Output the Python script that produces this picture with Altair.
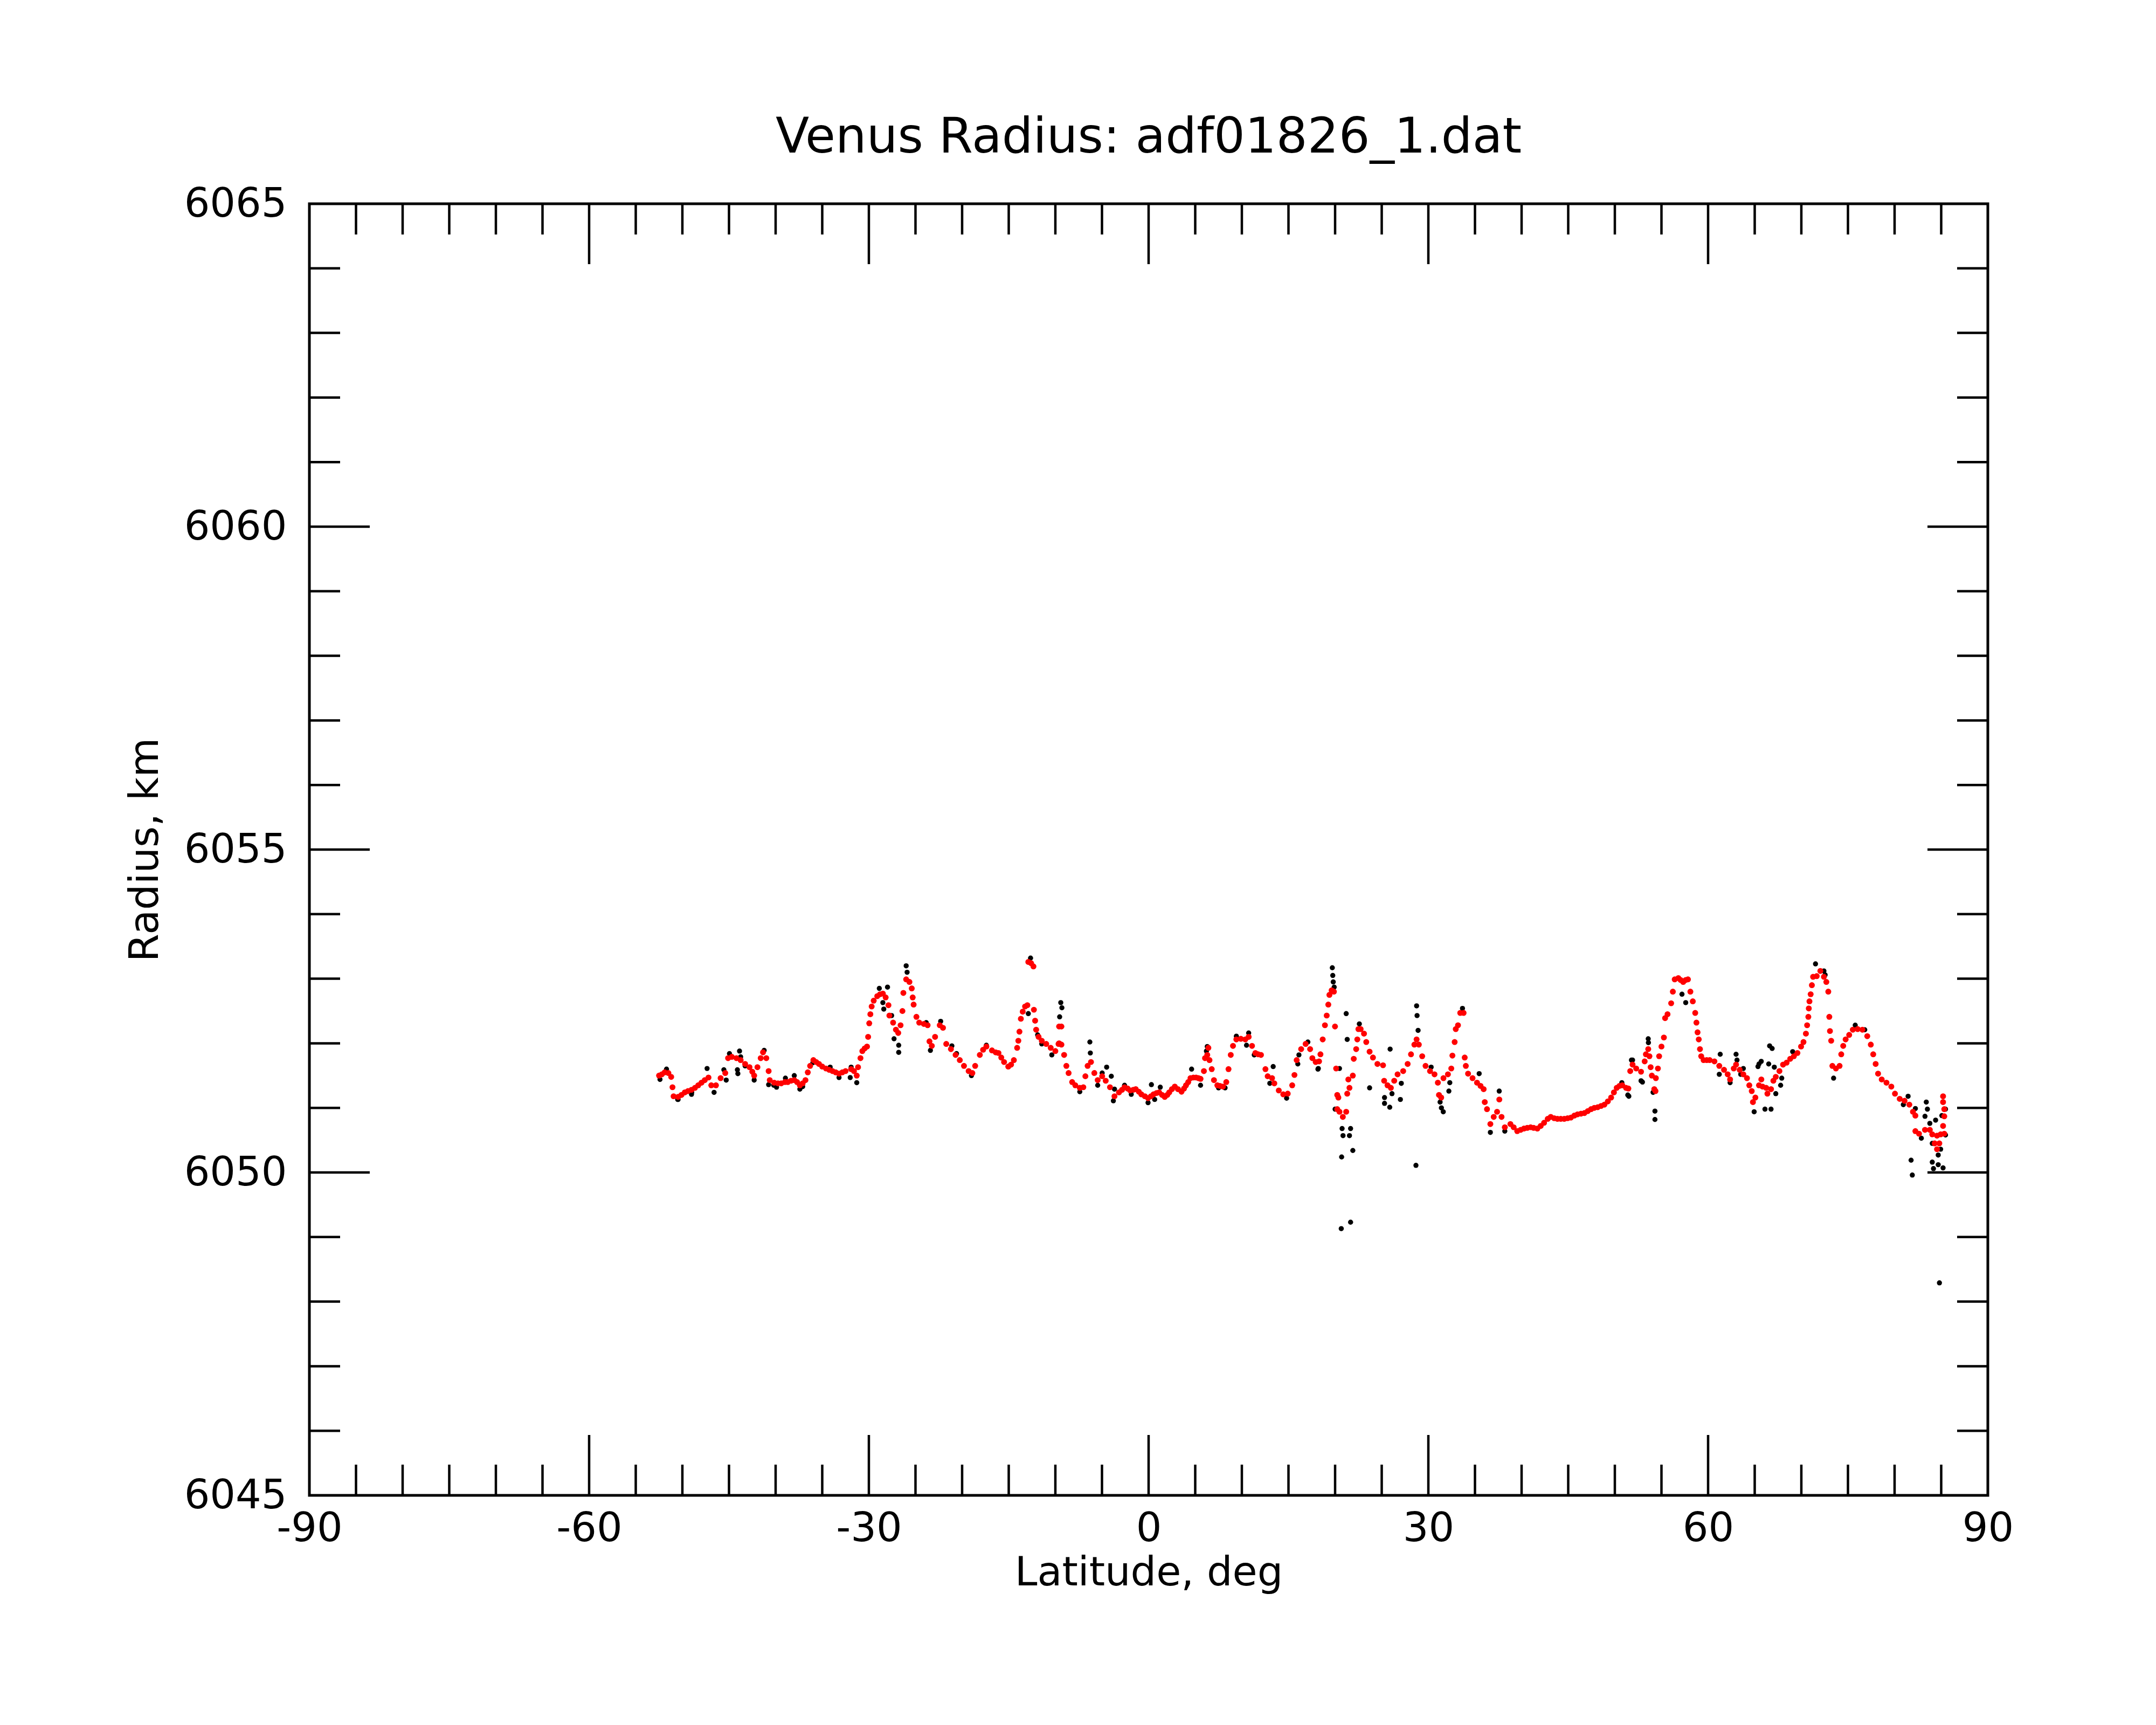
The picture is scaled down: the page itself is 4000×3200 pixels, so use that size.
import altair as alt
import pandas as pd

# ---- data ----
red_lat = [
    -52.5, -52.2, -51.9, -51.5, -51.2, -51.06, -50.94, -50.46, -50.1, -49.74,
    -49.4, -49.02, -48.65, -48.3, -47.95, -47.6, -47.2, -46.9, -46.4, -45.9,
    -45.4, -45.1, -44.7, -44.2, -43.75, -43.27, -42.8, -42.5, -42.3, -41.95,
    -41.6, -41.35, -41.0, -40.75, -40.63, -40.15, -39.75, -39.4, -39.0, -38.7,
    -38.35, -38.0, -37.7, -37.4, -37.1, -36.8, -36.55, -36.3, -35.95, -35.65,
    -35.35, -35.0, -34.6, -34.25, -33.9, -33.55, -33.2, -32.85, -32.5, -31.9,
    -31.6, -31.3, -31.16, -30.9, -30.7, -30.45, -30.2, -30.08, -29.96, -29.84,
    -29.7, -29.48, -29.1, -28.8, -28.5, -28.2, -27.9, -27.8, -27.4, -27.1,
    -26.85, -26.6, -26.4, -26.3, -26.0, -25.65, -25.4, -25.3, -25.2, -24.9,
    -24.6, -24.1, -23.7, -23.5, -23.25, -22.9, -22.4, -22.05, -21.7, -21.2,
    -20.7, -20.25, -19.8, -19.3, -18.9, -18.6, -18.1, -17.75, -17.4, -16.8,
    -16.4, -16.1, -15.8, -15.5, -15.05, -14.75, -14.45, -14.1, -13.97, -13.85,
    -13.7, -13.5, -13.25, -13.0, -12.9, -12.6, -12.35, -12.3, -12.17, -12.06,
    -11.8, -11.46, -10.98, -10.5, -10.0, -9.66, -9.6, -9.35, -9.6, -9.35,
    -9.06, -8.82, -8.58, -8.2, -7.86, -7.38, -7.0, -6.78, -6.54, -6.18,
    -5.82, -5.46, -4.98, -4.6, -4.14, -3.66, -3.18, -2.85, -2.58, -2.25,
    -1.98, -1.65, -1.38, -1.05, -0.78, -0.4, -0.06, 0.25, 0.53, 0.85,
    1.13, 1.45, 1.73, 2.0, 2.21, 2.5, 2.81, 3.15, 3.53, 3.8,
    4.01, 4.25, 4.49, 4.8, 5.09, 5.35, 5.57, 5.93, 6.05, 6.29,
    6.41, 6.53, 6.77, 7.01, 7.37, 7.65, 7.97, 8.33, 8.57, 8.81,
    9.05, 9.41, 9.89, 10.37, 10.73, 11.09, 11.45, 11.75, 12.05, 12.53,
    12.77, 13.24, 13.48, 13.96, 14.44, 14.92, 15.4, 15.64, 15.88, 16.36,
    16.84, 17.32, 17.56, 17.92, 18.28, 18.43, 18.67, 18.91, 19.1, 19.27,
    19.39, 19.63, 19.87, 19.99, 20.11, 20.23, 20.35, 20.23, 20.47, 20.83,
    21.19, 21.3, 21.42, 21.54, 21.9, 22.0, 22.26, 22.38, 22.5, 22.74,
    23.1, 23.34, 23.7, 24.06, 24.54, 25.14, 25.26, 25.62, 25.98, 26.34,
    26.7, 27.3, 27.78, 28.14, 28.5, 28.74, 28.98, 29.34, 29.7, 30.18,
    30.66, 31.02, 31.14, 31.38, 31.62, 32.1, 32.46, 32.58, 32.82, 32.94,
    33.18, 33.42, 33.78, 33.9, 34.02, 34.26, 34.74, 35.22, 35.6, 35.93,
    36.05, 36.29, 36.65, 37.01, 37.37, 37.61, 37.85, 38.2, 38.8, 39.15,
    39.53, 39.9, 40.25, 40.6, 40.97, 41.3, 41.69, 42.05, 42.41, 42.8,
    43.13, 43.5, 43.85, 44.2, 44.57, 44.93, 45.29, 45.65, 46.0, 46.37,
    46.73, 47.1, 47.45, 47.8, 48.16, 48.52, 48.88, 49.25, 49.6, 49.9,
    50.2, 50.5, 50.8, 51.2, 51.45, 51.65, 51.9, 52.29, 52.81, 53.2,
    53.33, 53.58, 53.71, 53.84, 53.97, 54.23, 54.36, 54.4, 54.62, 54.75,
    55.0, 55.26, 55.39, 55.65, 56.04, 56.22, 56.42, 56.81, 57.05, 57.33,
    57.6, 57.84, 58.1, 58.36, 58.62, 58.75, 58.87, 59.0, 59.13, 59.26,
    59.52, 59.85, 60.17, 60.68, 61.2, 61.71, 62.1, 62.36, 62.75, 63.0,
    63.39, 63.78, 64.17, 64.42, 64.68, 64.81, 65.07, 65.46, 65.71, 65.84,
    66.23, 66.36, 66.75, 67.0, 67.26, 67.65, 68.04, 68.42, 68.81, 69.2,
    69.58, 69.97, 70.23, 70.49, 70.62, 70.75, 70.8, 70.87, 71.0, 71.13,
    71.26, 71.65, 72.04, 72.42, 72.68, 72.89, 73.0, 73.07, 73.2, 73.33,
    73.71, 74.1, 74.28, 74.49, 74.75, 75.13, 75.52, 76.04, 76.55, 77.07,
    77.45, 77.71, 77.97, 78.23, 78.62, 79.13, 79.65, 80.04, 80.55, 81.07,
    81.58, 81.97, 82.23, 82.23, 82.62, 83.26, 83.78, 84.04, 84.55, 84.94,
    85.33, 84.3, 84.8, 84.55, 85.2, 85.33, 85.33, 85.2, 85.2,
]
red_r = [
    6051.50, 6051.52, 6051.55, 6051.54, 6051.48, 6051.32, 6051.18, 6051.17, 6051.20, 6051.24,
    6051.26, 6051.28, 6051.31, 6051.35, 6051.39, 6051.43, 6051.47, 6051.35, 6051.35, 6051.46,
    6051.54, 6051.77, 6051.79, 6051.77, 6051.74, 6051.68, 6051.63, 6051.56, 6051.50, 6051.63,
    6051.77, 6051.86, 6051.77, 6051.57, 6051.43, 6051.39, 6051.38, 6051.38, 6051.40, 6051.40,
    6051.42, 6051.43, 6051.40, 6051.35, 6051.38, 6051.43, 6051.55, 6051.65, 6051.74, 6051.71,
    6051.68, 6051.64, 6051.61, 6051.59, 6051.57, 6051.55, 6051.53, 6051.55, 6051.57, 6051.60,
    6051.57, 6051.50, 6051.63, 6051.77, 6051.88, 6051.92, 6051.95, 6052.10, 6052.31, 6052.45,
    6052.57, 6052.66, 6052.73, 6052.76, 6052.77, 6052.71, 6052.59, 6052.43, 6052.32, 6052.21,
    6052.16, 6052.28, 6052.50, 6052.78, 6052.99, 6052.95, 6052.85, 6052.71, 6052.60, 6052.41,
    6052.32, 6052.30, 6052.28, 6052.03, 6051.96, 6052.10, 6052.28, 6052.24, 6051.99, 6051.91,
    6051.82, 6051.74, 6051.65, 6051.57, 6051.54, 6051.65, 6051.82, 6051.90, 6051.95, 6051.89,
    6051.86, 6051.85, 6051.78, 6051.71, 6051.64, 6051.67, 6051.74, 6051.93, 6052.04, 6052.18,
    6052.38, 6052.49, 6052.57, 6052.59, 6053.26, 6053.24, 6053.19, 6052.52, 6052.35, 6052.21,
    6052.10, 6052.04, 6051.99, 6051.93, 6051.88, 6051.99, 6052.00, 6051.98, 6052.26, 6052.26,
    6051.82, 6051.65, 6051.54, 6051.40, 6051.35, 6051.31, 6051.32, 6051.49, 6051.65, 6051.71,
    6051.54, 6051.43, 6051.49, 6051.42, 6051.32, 6051.18, 6051.24, 6051.28, 6051.32, 6051.30,
    6051.27, 6051.28, 6051.29, 6051.25, 6051.21, 6051.18, 6051.15, 6051.18, 6051.21, 6051.23,
    6051.24, 6051.20, 6051.17, 6051.20, 6051.24, 6051.29, 6051.33, 6051.29, 6051.25, 6051.30,
    6051.35, 6051.40, 6051.46, 6051.47, 6051.47, 6051.46, 6051.45, 6051.57, 6051.77, 6051.82,
    6051.93, 6051.74, 6051.60, 6051.43, 6051.35, 6051.34, 6051.33, 6051.40, 6051.60, 6051.82,
    6051.96, 6052.06, 6052.07, 6052.06, 6052.10, 6051.96, 6051.85, 6051.83, 6051.82, 6051.60,
    6051.49, 6051.46, 6051.38, 6051.27, 6051.21, 6051.22, 6051.35, 6051.51, 6051.74, 6051.91,
    6051.99, 6051.91, 6051.77, 6051.71, 6051.72, 6051.83, 6052.06, 6052.28, 6052.43, 6052.60,
    6052.75, 6052.82, 6052.80, 6052.26, 6051.61, 6051.20, 6051.16, 6050.98, 6050.94, 6050.86,
    6050.94, 6051.22, 6051.44, 6051.31, 6051.50, 6051.76, 6051.91, 6052.06, 6052.22, 6052.22,
    6052.15, 6052.02, 6051.87, 6051.78, 6051.68, 6051.66, 6051.42, 6051.35, 6051.31, 6051.42,
    6051.52, 6051.57, 6051.68, 6051.83, 6051.98, 6052.06, 6051.98, 6051.80, 6051.65, 6051.57,
    6051.52, 6051.39, 6051.20, 6051.16, 6051.46, 6051.52, 6051.61, 6051.81, 6052.02, 6052.22,
    6052.28, 6052.47, 6052.47, 6051.78, 6051.65, 6051.53, 6051.46, 6051.39, 6051.34, 6051.29,
    6051.09, 6050.98, 6050.75, 6050.86, 6050.94, 6051.13, 6050.86, 6050.70, 6050.75, 6050.70,
    6050.64, 6050.66, 6050.68, 6050.69, 6050.70, 6050.69, 6050.68, 6050.72, 6050.77, 6050.83,
    6050.86, 6050.84, 6050.83, 6050.83, 6050.83, 6050.84, 6050.85, 6050.88, 6050.90, 6050.91,
    6050.92, 6050.95, 6050.98, 6051.00, 6051.01, 6051.03, 6051.05, 6051.10, 6051.16, 6051.24,
    6051.31, 6051.34, 6051.35, 6051.31, 6051.30, 6051.57, 6051.67, 6051.61, 6051.56, 6051.72,
    6051.83, 6051.91, 6051.80, 6051.63, 6051.50, 6051.29, 6051.26, 6051.46, 6051.61, 6051.80,
    6051.95, 6052.09, 6052.39, 6052.45, 6052.62, 6052.80, 6052.99, 6053.01, 6052.98, 6052.95,
    6052.98, 6052.99, 6052.80, 6052.65, 6052.47, 6052.32, 6052.17, 6052.06, 6051.91, 6051.80,
    6051.74, 6051.74, 6051.74, 6051.72, 6051.65, 6051.59, 6051.52, 6051.44, 6051.61, 6051.67,
    6051.59, 6051.52, 6051.46, 6051.35, 6051.26, 6051.09, 6051.16, 6051.35, 6051.44, 6051.33,
    6051.31, 6051.22, 6051.29, 6051.42, 6051.48, 6051.57, 6051.67, 6051.70, 6051.76, 6051.80,
    6051.85, 6051.95, 6052.02, 6052.15, 6052.28, 6052.41, 6052.54, 6052.65, 6052.76, 6052.90,
    6053.03, 6053.04, 6053.12, 6053.03, 6052.95, 6052.80, 6052.41, 6052.19, 6052.04, 6051.65,
    6051.61, 6051.65, 6051.83, 6051.96, 6052.06, 6052.13, 6052.21, 6052.22, 6052.21, 6052.11,
    6051.98, 6051.83, 6051.68, 6051.53, 6051.44, 6051.39, 6051.33, 6051.22, 6051.14, 6051.11,
    6051.05, 6050.94, 6050.88, 6050.64, 6050.60, 6050.66, 6050.66, 6050.59, 6050.57, 6050.59,
    6050.60, 6050.45, 6050.45, 6050.36, 6050.72, 6050.87, 6050.98, 6051.09, 6051.18,
]

black_lat = [
    -52.4, -51.7, -50.5, -49.0, -47.35, -46.6, -45.55, -45.3, -44.95, -43.87,
    -43.75, -44.1, -44.05, -43.27, -42.3, -41.23, -40.75, -40.2, -39.9, -38.95,
    -38.0, -37.4, -36.0, -34.15, -33.2, -31.9, -31.3, -28.88, -28.0, -28.5,
    -28.4, -27.56, -27.3, -26.8, -26.8, -26.0, -25.9, -23.85, -23.4, -22.3,
    -21.1, -20.6, -19.0, -17.4, -12.66, -12.9, -11.9, -11.46, -10.38, -9.42,
    -9.3, -9.54, -7.38, -6.3, -6.25, -5.46, -4.98, -4.5, -4.0, -3.66,
    -3.78, -2.58, -1.86, -0.06, 0.3, 0.65, 1.25, 4.61, 5.57, 6.29,
    6.2, 7.5, 8.2, 9.41, 10.73, 10.5, 11.33, 13.36, 13.0, 14.8,
    16.0, 16.12, 17.08, 18.16, 18.2, 19.7, 19.75, 19.8, 19.9, 21.19,
    21.3, 20.47, 20.0, 20.75, 20.85, 21.66, 21.54, 21.9, 20.7, 20.66,
    21.66, 22.6, 23.7, 25.9, 27.1, 25.3, 25.3, 25.86, 26.1, 27.0,
    28.74, 28.79, 28.9, 28.67, 30.3, 31.26, 31.4, 31.6, 32.3, 32.2,
    33.66, 35.45, 37.6, 36.65, 38.2, 50.75, 51.39, 51.5, 51.78, 51.9,
    52.81, 52.96, 53.58, 53.6, 54.1, 54.3, 54.3, 57.2, 57.6, 61.2,
    61.3, 62.36, 63.0, 63.1, 63.5, 63.78, 64.94, 65.35, 65.46, 65.7,
    66.1, 66.5, 66.6, 66.75, 66.87, 67.1, 67.26, 67.78, 67.9, 69.07,
    71.52, 72.42, 72.55, 73.46, 75.78, 76.8, 80.94, 81.45, 81.77, 81.9,
    82.23, 82.87, 83.26, 83.4, 83.52, 83.78, 84.04, 84.04, 84.17, 84.4,
    84.68, 84.68, 84.81, 84.94, 85.07, 85.2, 85.46, 85.46,
    -50.46, -49.02, -37.1, -32.0,
]
black_r = [
    6051.44, 6051.60, 6051.13, 6051.24, 6051.61, 6051.24, 6051.59, 6051.43, 6051.84, 6051.88,
    6051.79, 6051.59, 6051.53, 6051.65, 6051.43, 6051.89, 6051.36, 6051.35, 6051.32, 6051.46,
    6051.50, 6051.29, 6051.70, 6051.63, 6051.47, 6051.63, 6051.39, 6052.85, 6052.87, 6052.63,
    6052.53, 6052.43, 6052.07, 6051.97, 6051.86, 6053.20, 6053.10, 6052.32, 6051.89, 6052.34,
    6051.96, 6051.84, 6051.50, 6051.97, 6053.32, 6052.46, 6052.13, 6051.99, 6051.82, 6052.63,
    6052.55, 6052.41, 6051.25, 6052.02, 6051.85, 6051.35, 6051.54, 6051.63, 6051.49, 6051.29,
    6051.11, 6051.35, 6051.21, 6051.08, 6051.36, 6051.13, 6051.32, 6051.60, 6051.35, 6051.95,
    6051.88, 6051.31, 6051.31, 6052.11, 6052.16, 6051.97, 6051.82, 6051.64, 6051.38, 6051.15,
    6051.68, 6051.82, 6052.02, 6051.60, 6051.61, 6053.17, 6053.05, 6052.95, 6052.87, 6052.46,
    6052.06, 6051.61, 6050.98, 6050.68, 6050.57, 6050.68, 6050.57, 6050.34, 6050.24, 6049.13,
    6049.23, 6052.30, 6051.31, 6051.91, 6051.38, 6051.16, 6051.07, 6051.01, 6051.22, 6051.13,
    6052.58, 6052.43, 6052.20, 6050.11, 6051.63, 6051.09, 6051.00, 6050.94, 6051.39, 6051.26,
    6052.54, 6051.53, 6051.26, 6050.62, 6050.64, 6051.39, 6051.20, 6051.18, 6051.74, 6051.74,
    6051.42, 6051.40, 6052.07, 6052.01, 6051.24, 6050.95, 6050.82, 6052.76, 6052.63, 6051.52,
    6051.83, 6051.39, 6051.83, 6051.74, 6051.52, 6051.61, 6050.94, 6051.64, 6051.68, 6051.72,
    6050.98, 6051.68, 6051.96, 6050.98, 6051.92, 6051.63, 6051.22, 6051.35, 6051.46, 6051.87,
    6053.23, 6053.12, 6053.06, 6051.46, 6052.28, 6052.21, 6051.05, 6051.18, 6050.19, 6049.96,
    6050.99, 6050.53, 6050.87, 6051.09, 6050.98, 6050.76, 6050.45, 6050.16, 6050.06, 6050.81,
    6050.27, 6050.12, 6048.29, 6050.36, 6050.88, 6050.07, 6050.58, 6050.98,
    6051.13, 6051.21, 6051.33, 6051.47,
]

x_minor = [-85, -80, -75, -70, -65, -55, -50, -45, -40, -35, -25, -20, -15, -10, -5,
           5, 10, 15, 20, 25, 35, 40, 45, 50, 55, 65, 70, 75, 80, 85]
x_major = [-60, -30, 0, 30, 60]
x_labels = [-90, -60, -30, 0, 30, 60, 90]
y_minor = [6046, 6047, 6048, 6049, 6051, 6052, 6053, 6054, 6056, 6057, 6058, 6059,
           6061, 6062, 6063, 6064]
y_major = [6050, 6055, 6060]
y_labels = [6045, 6050, 6055, 6060, 6065]

TITLE = "Venus Radius: adf01826_1.dat"
XTITLE = "Latitude, deg"
YTITLE = "Radius, km"

# ---- chart ----
W, H = 3114, 2396
FONT = "DejaVu Sans"
FS = 75
MINOR, MAJOR = 57, 112
TW = 4.5

xs = alt.Scale(domain=[-90, 90], nice=False, zero=False)
ys = alt.Scale(domain=[6045, 6065], nice=False, zero=False)

# the same axis definition is given to every layer so that the shared axis is kept
xaxis = alt.Axis(values=x_labels, labelExpr="toString(datum.value)", tickSize=0,
                 domain=False, grid=False, labelFont=FONT, labelFontSize=FS, labelPadding=25,
                 labelFlush=False, labelLimit=0, labelColor="black",
                 title=XTITLE, titleFont=FONT, titleFontSize=FS, titleFontWeight="normal",
                 titleColor="black", titlePadding=8)
yaxis = alt.Axis(values=y_labels, format="d", tickSize=0,
                 domain=False, grid=False, labelFont=FONT, labelFontSize=FS, labelPadding=42,
                 labelFlush=False, labelLimit=0, labelColor="black",
                 title=YTITLE, titleFont=FONT, titleFontSize=FS, titleFontWeight="normal",
                 titleColor="black", titlePadding=66)

red = pd.DataFrame({"lat": red_lat, "r": red_r})
black = pd.DataFrame({"lat": black_lat, "r": black_r})

pts_black = alt.Chart(black).mark_circle(size=90, color="black", opacity=1).encode(
    x=alt.X("lat:Q", scale=xs, axis=xaxis),
    y=alt.Y("r:Q", scale=ys, axis=yaxis),
)
pts_red = alt.Chart(red).mark_circle(size=120, color="red", opacity=1).encode(
    x=alt.X("lat:Q", scale=xs, axis=xaxis),
    y=alt.Y("r:Q", scale=ys, axis=yaxis),
)


def xticks(vals, length):
    d = pd.DataFrame({"lat": vals})
    base = alt.Chart(d).mark_rule(color="black", strokeWidth=TW)
    bottom = base.encode(x=alt.X("lat:Q", scale=xs, axis=xaxis),
                         y=alt.value(H), y2=alt.value(H - length))
    top = base.encode(x=alt.X("lat:Q", scale=xs, axis=xaxis),
                      y=alt.value(0), y2=alt.value(length))
    return [bottom, top]


def yticks(vals, length):
    d = pd.DataFrame({"r": vals})
    base = alt.Chart(d).mark_rule(color="black", strokeWidth=TW)
    left = base.encode(y=alt.Y("r:Q", scale=ys, axis=yaxis),
                       x=alt.value(0), x2=alt.value(length))
    right = base.encode(y=alt.Y("r:Q", scale=ys, axis=yaxis),
                        x=alt.value(W), x2=alt.value(W - length))
    return [left, right]


layers = ([pts_black]
          + xticks(x_minor, MINOR) + xticks(x_major, MAJOR)
          + yticks(y_minor, MINOR) + yticks(y_major, MAJOR)
          + [pts_red])

chart = alt.layer(*layers).properties(
    width=W,
    height=H,
    background="white",
    autosize=alt.AutoSizeParams(type="none"),
    padding={"left": 566, "top": 370, "right": 200, "bottom": 300},
    title=alt.TitleParams(text=TITLE, font=FONT, fontSize=91, fontWeight="normal",
                          color="black", anchor="middle", baseline="alphabetic",
                          offset=0, dy=33),
).configure_view(stroke="black", strokeWidth=5)

chart.save("out.html", embed_options={"renderer": "svg", "actions": False})
